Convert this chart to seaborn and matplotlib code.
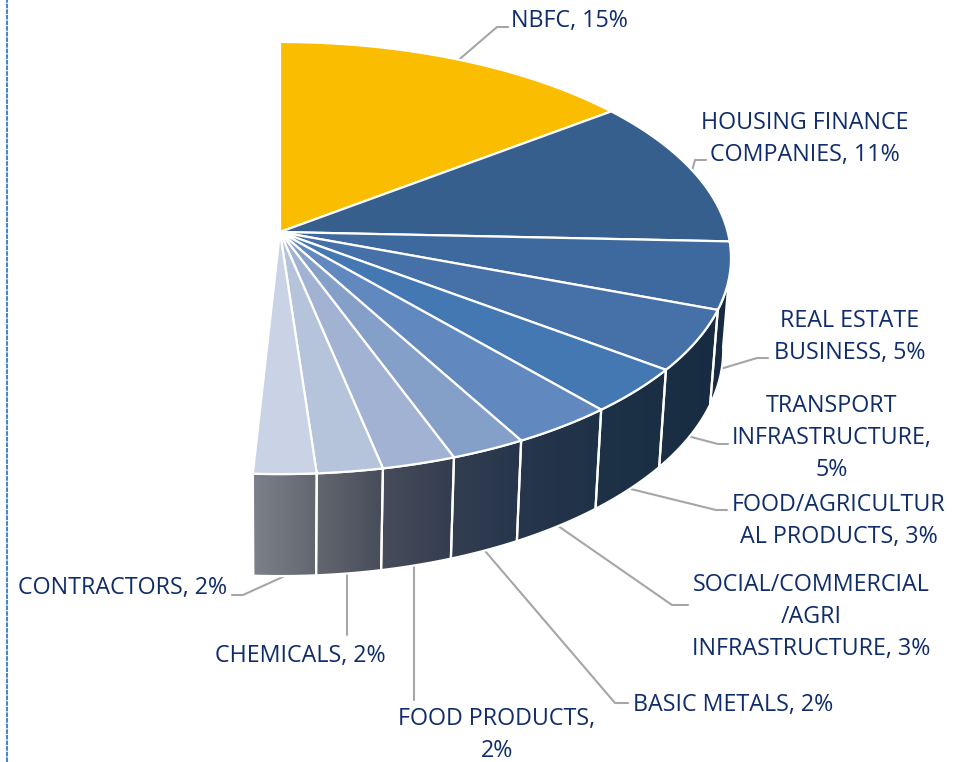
import numpy as np
import matplotlib
matplotlib.use("Agg")
import matplotlib.pyplot as plt
import seaborn as sns
from matplotlib.colors import LinearSegmentedColormap
from matplotlib.patches import Polygon

# ---- data ----
categories = ["NBFC", "HOUSING FINANCE\nCOMPANIES", "REAL ESTATE\nBUSINESS",
              "TRANSPORT\nINFRASTRUCTURE,\n", "FOOD/AGRICULTUR\nAL PRODUCTS",
              "SOCIAL/COMMERCIAL\n/AGRI\nINFRASTRUCTURE", "BASIC METALS",
              "FOOD PRODUCTS,\n", "CHEMICALS", "CONTRACTORS"]
shares = [14.6, 11.1, 5.0, 4.55, 3.45, 3.3, 2.4, 2.35, 2.1, 2.0]

# ---- styles ----
sns.set_theme(style="white")
plt.rcParams["font.family"] = ["Open Sans", "DejaVu Sans"]
face_colors = sns.color_palette(["#FBBD00", "#375F8E", "#3E699E", "#4570A8", "#4478B2",
                                 "#6289BF", "#85A0C8", "#A1B2D2", "#B5C3DB", "#C9D3E5"])
TEXT = "#0F2C6B"
LEADER = "#A6A6A6"
wall_cmap = LinearSegmentedColormap.from_list("wall", [
    (0.00, "#7C8089"), (0.13, "#62676F"), (0.27, "#474C5A"), (0.42, "#333D50"),
    (0.55, "#27364D"), (0.72, "#1E3247"), (1.00, "#162A41")])

# projection of the tilted disc (top face and lower rim)
TOP = dict(cx=280, cy=232, a=447.7, b=212.9, k=0.1205)
BOT = dict(cx=280, cy=323, a=440.0, b=222.7, k=0.12)
WALL_START = 96.0   # silhouette angle: the wall is hidden before it

def project(theta_deg, p, r=1.0):
    t = np.radians(np.asarray(theta_deg, dtype=float))
    u, v = r * np.sin(t), r * np.cos(t)
    d = 1 + p["k"] * v
    return p["cx"] + p["a"] * u / d, p["cy"] - p["b"] * v / d

# label layout: centre of text, elbow of leader, end of leader
label_xy = [(569, 21), (805, 139), (850, 337), (832, 438), (839, 521),
            (811, 617), (733, 705), (497, 735), (300, 656), (123, 588)]
leader_via = [[(497, 27), (508, 27)], [(695, 160), (706, 160)], [(757, 358), (768, 358)],
              [(718, 444), (728, 444)], [(716, 510), (727, 510)], [(672, 605), (688, 605)],
              [(615, 703), (628, 703)], [(414, 700)], [(347, 635)], [(243, 595), (232, 595)]]

fig = plt.figure(figsize=(9.59, 7.62), dpi=100, facecolor="white")
ax = fig.add_axes([0, 0, 1, 1])

edges = np.concatenate([[0], np.cumsum(shares)]) * 3.6
mids = (edges[:-1] + edges[1:]) / 2

# side wall
grad = np.linspace(0, 1, 512).reshape(1, -1)
for lo, hi in zip(edges[:-1], edges[1:]):
    lo2 = max(lo, WALL_START)
    if hi <= lo2:
        continue
    th = np.linspace(lo2, hi, 40)
    xt, yt = project(th, TOP)
    xb, yb = project(th[::-1], BOT)
    pts = np.column_stack([np.r_[xt, xb], np.r_[yt, yb]])
    poly = Polygon(pts, closed=True, fc="none", ec="white", lw=1.6, zorder=3)
    ax.add_patch(poly)
    im = ax.imshow(grad, extent=(254, 732, 600, 250), aspect="auto", cmap=wall_cmap,
                   vmin=0, vmax=1, zorder=2, interpolation="bilinear")
    im.set_clip_path(poly)

# top face
for lo, hi, col in zip(edges[:-1], edges[1:], face_colors):
    th = np.linspace(lo, hi, 80)
    xt, yt = project(th, TOP)
    pts = np.column_stack([np.r_[TOP["cx"], xt], np.r_[TOP["cy"], yt]])
    ax.add_patch(Polygon(pts, closed=True, fc=col, ec="white", lw=1.6, zorder=4,
                         joinstyle="round"))

# leaders and labels
for i, (name, share) in enumerate(zip(categories, shares)):
    rim = TOP if i < 2 else BOT
    ax0, ay0 = project(mids[i], rim)
    via = leader_via[i]
    if len(via) == 1:        # plain vertical leader
        ax0 = via[0][0]
    path = [(float(ax0), float(ay0))] + via
    ax.plot(*zip(*path), color=LEADER, lw=1.5, zorder=1, solid_joinstyle="miter")
    pct = f"{round(share)}%"
    if name.endswith("\n"):
        text = name + pct
    else:
        text = f"{name}, {pct}"
    ax.text(*label_xy[i], text, color=TEXT, fontsize=16.75, ha="center", va="center",
            linespacing=1.47, zorder=5)

# dashed frame line at the left
ax.axvline(7, color="#4A86C8", lw=1.5, ls=(0, (2.2, 0.5)), zorder=1)

ax.set_xlim(0, 959)
ax.set_ylim(762, 0)
ax.axis("off")
fig.savefig("out.png", dpi=100, facecolor="white")
